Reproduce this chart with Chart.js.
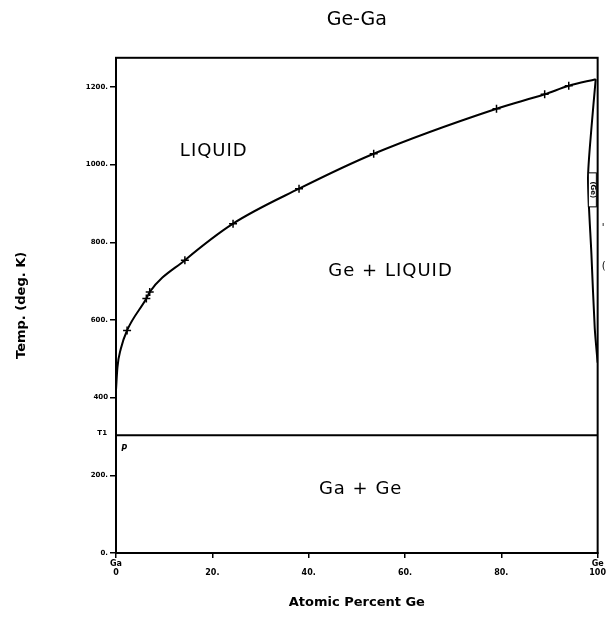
<!DOCTYPE html>
<html>
<head>
<meta charset="utf-8">
<script src="https://cdn.jsdelivr.net/npm/chart.js@4/dist/chart.umd.min.js"></script>
<style>
  html, body { margin: 0; padding: 0; background: #fff; }
  canvas { display: block; }
</style>
</head>
<body>
<canvas id="chart" width="607" height="624"></canvas>
<script>
// liquidus curve (Ga side up to Ge melting point)
var liqCurveX = [0, 0.3, 1.0, 2.3, 6.3, 7.0, 14.3, 24.3, 38.0, 53.5, 79.0, 89.0, 94.0, 99.6];
var liqCurveT = [420, 478, 526, 573, 655, 672, 754, 848, 938, 1028, 1144, 1181, 1203, 1220];

// measured liquidus points (crosses)
var pointX = [2.3, 6.3, 7.0, 14.3, 24.3, 38.0, 53.5, 79.0, 89.0, 94.0];
var pointT = [573, 655, 672, 754, 848, 938, 1028, 1144, 1181, 1203];

// (Ge) solidus on the right edge
var solX = [99.6, 98.7, 98.0, 98.7, 99.4, 100];
var solT = [1220, 1093, 964, 771, 578, 490];

// eutectic T1
var t1X = [0, 100];
var t1T = [303, 303];

var xTickVals = [0, 20, 40, 60, 80, 100];
var xTickLabels = [['Ga', '0'], ['', '20.'], ['', '40.'], ['', '60.'], ['', '80.'], ['Ge', '100']];
var yTickVals = [0, 200, 400, 600, 800, 1000, 1200];
var yTickLabels = ['0.', '200.', '400', '600.', '800.', '1000.', '1200.'];

var regionNames = ['LIQUID', 'Ge + LIQUID', 'Ga + Ge'];
var regionX = [20.3, 57, 50.8];
var regionT = [1033, 724, 165];

Chart.defaults.color = '#000';
Chart.defaults.font.family = '"DejaVu Sans", sans-serif';

var phaseLabels = {
    id: 'phaseLabels',
    afterDatasetsDraw: function (chart) {
        var ctx = chart.ctx;
        var a = chart.chartArea;
        var xs = chart.scales.x;
        var ys = chart.scales.y;
        ctx.save();
        ctx.strokeStyle = '#000';
        ctx.lineWidth = 2;
        ctx.strokeRect(a.left, a.top, a.right - a.left, a.bottom - a.top);

        ctx.fillStyle = '#000';
        ctx.textAlign = 'center';
        ctx.textBaseline = 'middle';
        ctx.font = '18px "DejaVu Sans"';
        ctx.letterSpacing = '1px';
        regionNames.forEach(function (name, i) {
            ctx.fillText(name, xs.getPixelForValue(regionX[i]), ys.getPixelForValue(regionT[i]));
        });
        ctx.letterSpacing = '0px';

        // T1 label
        ctx.font = 'bold 7px "DejaVu Sans"';
        ctx.textAlign = 'right';
        ctx.fillText('T1', a.left - 9, ys.getPixelForValue(t1T[0]) - 2);

        // small mark under T1
        ctx.font = 'italic bold 8px "DejaVu Sans"';
        ctx.textAlign = 'center';
        ctx.fillText('P', xs.getPixelForValue(1.7), ys.getPixelForValue(268));

        // boxed (Ge) label on the right
        var bx = xs.getPixelForValue(98.9);
        var by = ys.getPixelForValue(935);
        ctx.fillStyle = '#fff';
        ctx.fillRect(bx - 4, by - 17, 8, 34);
        ctx.lineWidth = 1;
        ctx.strokeRect(bx - 4, by - 17, 8, 34);
        ctx.translate(bx, by);
        ctx.rotate(Math.PI / 2);
        ctx.fillStyle = '#000';
        ctx.font = 'bold 7px "DejaVu Sans"';
        ctx.fillText('(Ge)', 0, 0);
        ctx.restore();

        // cut-off marks beyond the frame
        ctx.save();
        ctx.fillStyle = '#000';
        ctx.font = '10px "DejaVu Sans"';
        ctx.textAlign = 'left';
        ctx.textBaseline = 'middle';
        ctx.fillText("'", a.right + 4, 228);
        ctx.fillText('(', a.right + 4, 266);
        ctx.restore();
    }
};

function pts(xs, ts) {
    return xs.map(function (x, i) { return { x: x, y: ts[i] }; });
}

var ctx = document.getElementById('chart').getContext('2d');
var chart = new Chart(ctx, {
    type: 'scatter',
    data: {
        datasets: [
            {
                data: pts(liqCurveX, liqCurveT),
                showLine: true,
                borderColor: '#000',
                borderWidth: 2,
                pointRadius: 0,
                cubicInterpolationMode: 'monotone'
            },
            {
                data: pts(pointX, pointT),
                showLine: false,
                pointStyle: 'cross',
                pointRadius: 4,
                borderColor: '#000',
                borderWidth: 1.5
            },
            {
                data: pts(solX, solT),
                showLine: true,
                borderColor: '#000',
                borderWidth: 2,
                pointRadius: 0,
                tension: 0.25
            },
            {
                data: pts(t1X, t1T),
                showLine: true,
                borderColor: '#000',
                borderWidth: 2,
                pointRadius: 0
            }
        ]
    },
    options: {
        responsive: false,
        animation: false,
        devicePixelRatio: 1,
        layout: { padding: { top: 0, right: 8, left: 0, bottom: 0 } },
        plugins: {
            legend: { display: false },
            tooltip: { enabled: false },
            title: {
                display: true,
                text: 'Ge-Ga',
                fullSize: false,
                font: { size: 19, weight: 'normal' },
                padding: { top: 9, bottom: 26 }
            }
        },
        scales: {
            x: {
                type: 'linear',
                min: 0,
                max: 100,
                afterBuildTicks: function (s) {
                    s.ticks = xTickVals.map(function (v) { return { value: v }; });
                },
                afterFit: function (s) { s.height = 71; },
                grid: { drawOnChartArea: false, drawTicks: true, tickLength: 5, color: '#000', lineWidth: 1.5 },
                border: { color: '#000', width: 2 },
                ticks: {
                    autoSkip: false,
                    maxRotation: 0,
                    padding: 1,
                    font: { size: 8, weight: 'bold' },
                    callback: function (v) { return xTickLabels[xTickVals.indexOf(v)]; }
                },
                title: {
                    display: true,
                    text: 'Atomic Percent Ge',
                    font: { size: 13, weight: 'bold' },
                    padding: { top: 0, bottom: 14 }
                }
            },
            y: {
                type: 'linear',
                min: 0,
                max: 1275,
                afterBuildTicks: function (s) {
                    s.ticks = yTickVals.map(function (v) { return { value: v }; });
                },
                afterFit: function (s) { s.width = 116; },
                grid: { drawOnChartArea: false, drawTicks: true, tickLength: 6, color: '#000', lineWidth: 1.5 },
                border: { color: '#000', width: 2 },
                ticks: {
                    padding: 2,
                    font: { size: 7, weight: 'bold' },
                    callback: function (v) { return yTickLabels[yTickVals.indexOf(v)]; }
                },
                title: {
                    display: true,
                    text: 'Temp. (deg. K)',
                    font: { size: 13, weight: 'bold' },
                    padding: { top: 14, bottom: 0 }
                }
            }
        }
    },
    plugins: [phaseLabels]
});
</script>
</body>
</html>
